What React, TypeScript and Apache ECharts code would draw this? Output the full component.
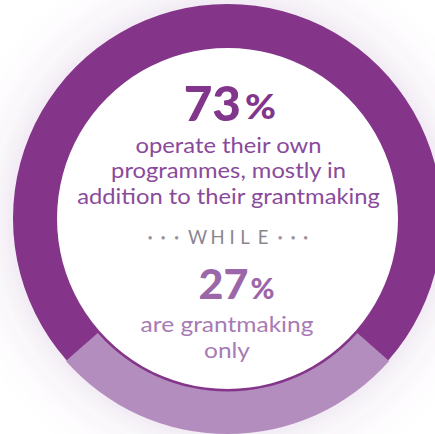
import React, { useEffect, useRef } from "react";
import * as echarts from "echarts";

const categories = ["Operate their own programmes", "Grantmaking only"];
const shares = [73, 27];
const headline = ["73", "27"];
const topLines = ["operate their own", "programmes, mostly in", "addition to their grantmaking"];
const bottomLines = ["are grantmaking", "only"];
const separatorChars = ["•", "•", "•", "W", "H", "I", "L", "E", "•", "•", "•"];

const DARK = "#84358a";
const LIGHT = "#b38dbe";

export default function App() {
  const ref = useRef<HTMLDivElement>(null);
  useEffect(() => {
    if (!ref.current) return;
    const chart = echarts.init(ref.current, undefined, { renderer: "svg" });
    const cx = 227.5;
    const cy = 218.5;
    const bodyFont = "Lato, 'Noto Sans', sans-serif";
    const texts: any[] = [];
    texts.push({ type: "text", z: 100, x: 241, y: 102, scaleX: 1.03, style: { text: headline[0], font: `900 48px ${bodyFont}`, fill: "#82368b", textAlign: "right", textVerticalAlign: "middle" } });
    texts.push({ type: "text", z: 100, x: 245, y: 106.5, scaleX: 1.1, style: { text: "%", font: `900 34px ${bodyFont}`, fill: "#82368b", textAlign: "left", textVerticalAlign: "middle" } });
    const topY = [144.5, 170, 195.5];
    topLines.forEach((t, i) => {
      texts.push({ type: "text", z: 100, x: 228.5, y: topY[i], scaleX: 1.105, style: { text: t, font: `400 21.5px ${bodyFont}`, fill: "#8a4a9b", textAlign: "center", textVerticalAlign: "middle" } });
    });
    const sepX = [150, 163, 176.5, 197.5, 217.5, 232, 245, 263, 280, 293, 305.5];
    separatorChars.forEach((c, i) => {
      const dot = c === "•";
      texts.push({ type: "text", z: 100, x: sepX[i], y: dot ? 237.5 : 236.8, style: { text: c, font: dot ? `400 9px ${bodyFont}` : `400 18.5px ${bodyFont}`, fill: dot ? "#9a949d" : "#8a8590", textAlign: "center", textVerticalAlign: "middle" } });
    });
    texts.push({ type: "text", z: 100, x: 248.5, y: 283.5, scaleX: 1.05, style: { text: headline[1], font: `900 41px ${bodyFont}`, fill: "#9c67a8", textAlign: "right", textVerticalAlign: "middle" } });
    texts.push({ type: "text", z: 100, x: 250.5, y: 287.5, style: { text: "%", font: `900 29px ${bodyFont}`, fill: "#9c67a8", textAlign: "left", textVerticalAlign: "middle" } });
    const botY = [324, 350];
    bottomLines.forEach((t, i) => {
      texts.push({ type: "text", z: 100, x: 227, y: botY[i], scaleX: 1.14, style: { text: t, font: `400 21.5px ${bodyFont}`, fill: "#a77bb3", textAlign: "center", textVerticalAlign: "middle" } });
    });

    chart.setOption({
      animation: false,
      backgroundColor: "#ffffff",
      graphic: [
        {
          type: "circle",
          z: -10,
          shape: { cx, cy, r: 213 },
          style: { fill: "#ffffff", shadowBlur: 60, shadowColor: "rgba(120, 60, 140, 0.22)" },
        },
        ...texts,
      ],
      series: [
        {
          type: "pie",
          center: [cx, cy],
          radius: [170.5, 214.5],
          silent: true,
          label: { show: false },
          labelLine: { show: false },
          z: 1,
          data: [{ name: "ring", value: shares[0] + shares[1], itemStyle: { color: DARK } }],
        },
        {
          type: "pie",
          center: [cx, cy],
          radius: [173, 215.5],
          startAngle: 221.4,
          clockwise: true,
          silent: true,
          label: { show: false },
          labelLine: { show: false },
          z: 2,
          data: [
            { name: categories[0], value: shares[0], itemStyle: { color: "rgba(0,0,0,0)" } },
            { name: categories[1], value: shares[1], itemStyle: { color: LIGHT } },
          ],
        },
      ],
    });
    return () => chart.dispose();
  }, []);
  return <div ref={ref} style={{ position: "fixed", left: 0, top: 0, width: 435, height: 434 }} />;
}
